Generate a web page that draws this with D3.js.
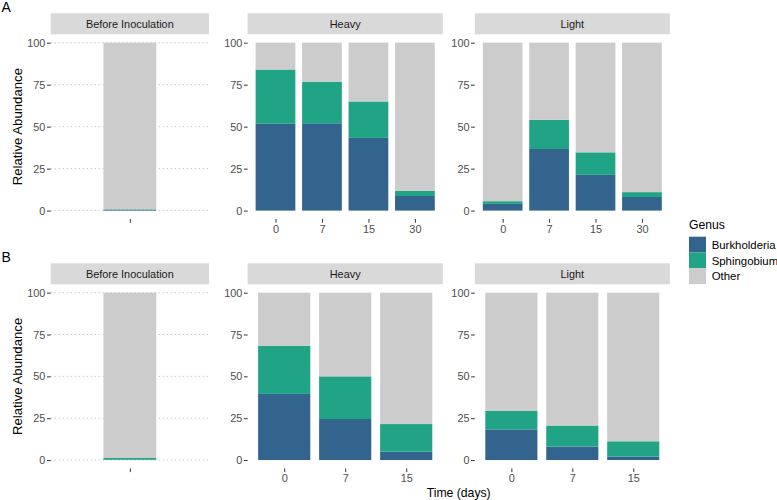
<!DOCTYPE html>
<html><head><meta charset="utf-8">
<script src="https://cdn.jsdelivr.net/npm/d3@7"></script>
<style>
body{margin:0;background:#fff;}
svg{font-family:"Liberation Sans",Arial,sans-serif;}
</style></head>
<body><svg id="chart" width="777" height="500"></svg>
<script>
// ---------------- data ----------------
const genera = ["Burkholderia", "Sphingobium", "Other"];
const conditions = ["Before Inoculation", "Heavy", "Light"];
const timesBefore = [""];
const timesA = ["0", "7", "15", "30"];
const timesB = ["0", "7", "15"];
const yTicks = [0, 25, 50, 75, 100];

const beforeA_Burkholderia = [0.5];
const beforeA_Sphingobium  = [0.3];
const beforeA_Other        = [99.2];
const heavyA_Burkholderia  = [51.7, 52.0, 43.3, 8.7];
const heavyA_Sphingobium   = [32.3, 24.8, 21.7, 3.0];
const heavyA_Other         = [16.0, 23.2, 35.0, 88.3];
const lightA_Burkholderia  = [4.0, 36.7, 21.3, 8.1];
const lightA_Sphingobium   = [1.6, 17.4, 13.4, 2.9];
const lightA_Other         = [94.4, 45.9, 65.3, 89.0];

const beforeB_Burkholderia = [0.2];
const beforeB_Sphingobium  = [1.0];
const beforeB_Other        = [98.8];
const heavyB_Burkholderia  = [39.5, 24.5, 5.0];
const heavyB_Sphingobium   = [28.8, 25.5, 16.5];
const heavyB_Other         = [31.7, 50.0, 78.5];
const lightB_Burkholderia  = [18.3, 8.0, 2.0];
const lightB_Sphingobium   = [11.0, 12.6, 9.2];
const lightB_Other         = [70.7, 79.4, 88.8];

// ---------------- styles ----------------
const colors = {Burkholderia: "#32648E", Sphingobium: "#21A386", Other: "#CCCCCC"};
const stripFill = "#D9D9D9";

function rows(times, b, s, o) {
  return times.map((t, i) => ({time: t, Burkholderia: b[i], Sphingobium: s[i], Other: o[i]}));
}

const panelsA = [
  {cond: conditions[0], times: timesBefore, data: rows(timesBefore, beforeA_Burkholderia, beforeA_Sphingobium, beforeA_Other)},
  {cond: conditions[1], times: timesA, data: rows(timesA, heavyA_Burkholderia, heavyA_Sphingobium, heavyA_Other)},
  {cond: conditions[2], times: timesA, data: rows(timesA, lightA_Burkholderia, lightA_Sphingobium, lightA_Other)}
];
const panelsB = [
  {cond: conditions[0], times: timesBefore, data: rows(timesBefore, beforeB_Burkholderia, beforeB_Sphingobium, beforeB_Other)},
  {cond: conditions[1], times: timesB, data: rows(timesB, heavyB_Burkholderia, heavyB_Sphingobium, heavyB_Other)},
  {cond: conditions[2], times: timesB, data: rows(timesB, lightB_Burkholderia, lightB_Sphingobium, lightB_Other)}
];

const svg = d3.select("#chart");

// panel horizontal layout
const colX = [[50.7, 209.0], [247.6, 442.8], [474.8, 669.8]];
const barFrac = [0.40, 0.855, 0.855];
const stack = d3.stack().keys(genera);

function drawRow(panels, stripTop, panelTop, panelBottom, label, labelY) {
  const g = svg.append("g");
  const y = d3.scaleLinear().domain([-5, 105]).range([panelBottom, panelTop]);

  g.append("text").attr("x", 1.5).attr("y", labelY).attr("font-size", 14).attr("fill", "#000").text(label);

  g.append("text")
    .attr("transform", `translate(22,${(panelTop + panelBottom) / 2}) rotate(-90)`)
    .attr("text-anchor", "middle").attr("font-size", 13.2).attr("fill", "#000")
    .text("Relative Abundance");

  panels.forEach((p, i) => {
    const [x0, x1] = colX[i];
    const x = d3.scalePoint().domain(p.times).range([x0, x1]).padding(0.6);
    const bw = x.step() * barFrac[i];

    // strip
    g.append("rect").attr("x", x0).attr("y", stripTop).attr("width", x1 - x0)
      .attr("height", panelTop - stripTop).attr("fill", stripFill);
    g.append("text").attr("x", (x0 + x1) / 2).attr("y", (stripTop + panelTop) / 2)
      .attr("dy", "0.36em").attr("text-anchor", "middle").attr("font-size", 10.9)
      .attr("fill", "#1a1a1a").text(p.cond);

    // dotted grid (only visible in the before panel)
    if (i === 0) {
      g.append("g").selectAll("line").data(yTicks).join("line")
        .attr("x1", x0).attr("x2", x1)
        .attr("y1", d => y(d)).attr("y2", d => y(d))
        .attr("stroke", "#b5b5b5").attr("stroke-width", 1).attr("stroke-dasharray", "1,3");
    }

    // bars
    const series = stack(p.data);
    g.append("g").selectAll("g").data(series).join("g")
      .attr("fill", d => colors[d.key])
      .selectAll("rect").data(d => d).join("rect")
      .attr("x", d => x(d.data.time) - bw / 2)
      .attr("width", bw)
      .attr("y", d => y(d[1]))
      .attr("height", d => Math.max(0, y(d[0]) - y(d[1])));

    // y axis
    const ya = g.append("g").attr("transform", `translate(${x0},0)`)
      .call(d3.axisLeft(y).tickValues(yTicks).tickSize(3.7).tickPadding(1.6));
    ya.select(".domain").remove();
    ya.selectAll("line").attr("stroke", "#333");
    ya.selectAll("text").attr("font-size", 10.9).attr("fill", "#4d4d4d").attr("font-family", null);

    // x axis
    const xa = g.append("g").attr("transform", `translate(0,${panelBottom})`)
      .call(d3.axisBottom(x).tickSize(3.7).tickPadding(2.2));
    xa.select(".domain").remove();
    xa.selectAll("line").attr("stroke", "#333");
    xa.selectAll("text").attr("font-size", 10.9).attr("fill", "#4d4d4d").attr("font-family", null);
  });
}

drawRow(panelsA, 13.3, 34.3, 219.0, "A", 11.8);
drawRow(panelsB, 263.3, 284.3, 468.4, "B", 261.8);

// x title spanning Heavy + Light panels
svg.append("text").attr("x", (colX[1][0] + colX[2][1]) / 2).attr("y", 497)
  .attr("text-anchor", "middle").attr("font-size", 12.2).attr("fill", "#000").text("Time (days)");

// legend
const lg = svg.append("g").attr("transform", "translate(689,0)");
lg.append("text").attr("x", 0).attr("y", 228.5).attr("font-size", 12.2).attr("fill", "#000").text("Genus");
const keyH = 15.8, keyW = 17, keyTop = 236.7;
genera.forEach((gname, i) => {
  lg.append("rect").attr("x", 0).attr("y", keyTop + i * keyH).attr("width", keyW).attr("height", keyH)
    .attr("fill", colors[gname]);
  lg.append("text").attr("x", 22.7).attr("y", keyTop + i * keyH + keyH / 2).attr("dy", "0.36em")
    .attr("font-size", 11.4).attr("fill", "#000").text(gname);
});
</script>
</body></html>
